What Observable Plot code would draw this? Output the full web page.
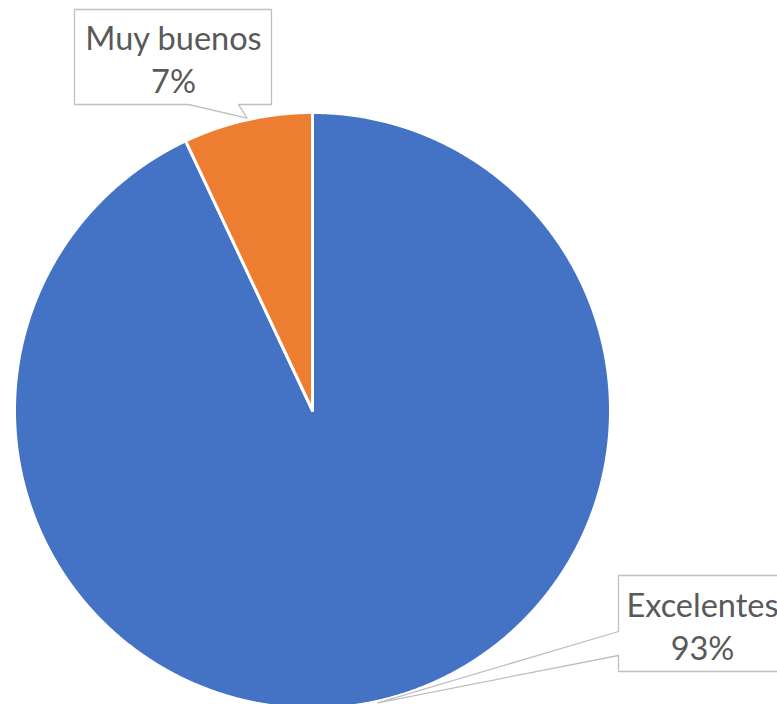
<!DOCTYPE html>
<html><head><meta charset="utf-8">
<script src="https://cdn.jsdelivr.net/npm/d3@7"></script>
<script src="https://cdn.jsdelivr.net/npm/@observablehq/plot@0.6"></script>
<style>html,body{margin:0;padding:0;background:#fff}#chart svg{display:block}</style>
</head><body><div id="chart"></div>
<script>
// ---- data ----
const categories = ["Excelentes", "Muy buenos"];
const values = [93, 7];
const colors = ["#4472C4", "#ED7D31"];

// ---- layout (pixels) ----
const W = 777, H = 704, cx = 312, cy = 410, R = 298;
const labelLayout = [
  {box: [618, 575, 786, 671], side: "left", base: [631, 655], textX: 702, textDy: 1},
  {box: [74, 9, 271, 104], side: "bottom", base: [188, 238], textX: 173, textDy: 1}
];
const ux = px => (px - cx) / R, uy = py => (cy - py) / R;

const total = d3.sum(values);
const arcs = d3.pie().sort(null).value(d => d)(values);

// slice polygons
const slicePts = [];
arcs.forEach((a, i) => {
  slicePts.push({k: i, x: 0, y: 0});
  const n = Math.max(8, Math.ceil((a.endAngle - a.startAngle) / 0.004));
  for (let j = 0; j <= n; j++) {
    const t = a.startAngle + (a.endAngle - a.startAngle) * j / n;
    slicePts.push({k: i, x: Math.sin(t), y: Math.cos(t)});
  }
});

// callouts
const calloutPts = [];
const labels = [];
arcs.forEach((a, i) => {
  const L = labelLayout[i];
  const mid = (a.startAngle + a.endAngle) / 2;
  const tip = {x: Math.sin(mid) * 1.005, y: Math.cos(mid) * 1.005};
  const [l, t, r, b] = L.box;
  let pts;
  if (L.side === "bottom") {
    pts = [[l,t],[r,t],[r,b],[L.base[1],b],null,[L.base[0],b],[l,b]];
  } else {
    pts = [[l,t],[r,t],[r,b],[l,b],[l,L.base[1]],null,[l,L.base[0]]];
  }
  pts.forEach(p => calloutPts.push(p ? {k: i, x: ux(p[0]), y: uy(p[1])} : {k: i, ...tip}));
  labels.push({
    text: `${categories[i]}\n${Math.round(values[i] / total * 100)}%`,
    x: ux(L.textX), y: uy((t + b) / 2 + L.textDy)
  });
});

const chart = Plot.plot({
  width: W, height: H,
  margin: 0,
  x: {domain: [ux(0), ux(W)], axis: null},
  y: {domain: [uy(H), uy(0)], axis: null},
  marks: [
    Plot.line(slicePts, {x: "x", y: "y", z: "k", curve: "linear-closed",
      fill: d => colors[d.k], stroke: "#fff", strokeWidth: 3, strokeLinejoin: "round"}),
    Plot.line(calloutPts, {x: "x", y: "y", z: "k", curve: "linear-closed",
      fill: "#fff", stroke: "#bfbfbf", strokeWidth: 1.3}),
    Plot.text(labels, {x: "x", y: "y", text: "text", fill: "#595959",
      fontSize: 32.5, fontFamily: "Lato", lineHeight: 1.32, lineAnchor: "middle", textAnchor: "middle"})
  ]
});
document.getElementById("chart").appendChild(chart);
</script></body></html>
